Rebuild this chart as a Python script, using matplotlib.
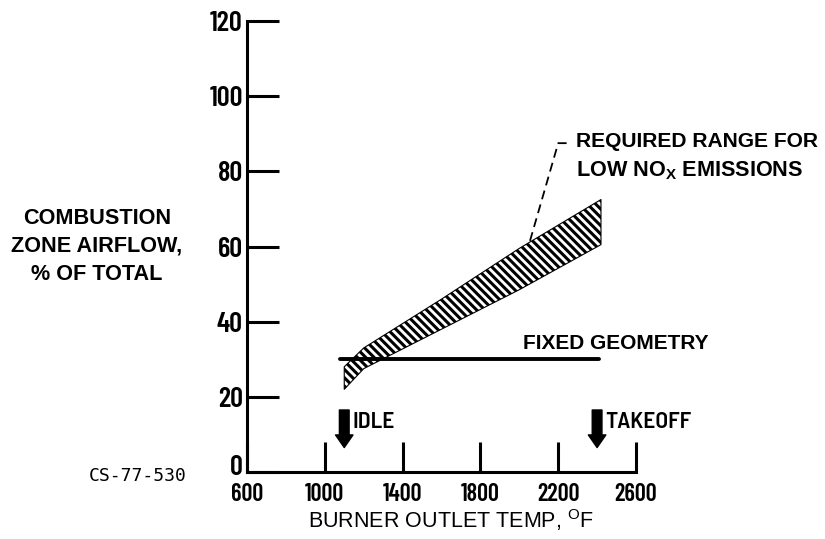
import matplotlib
matplotlib.use("Agg")
import matplotlib.pyplot as plt
from matplotlib.transforms import ScaledTranslation

plt.rcParams["font.family"] = ["Liberation Sans", "DejaVu Sans"]
plt.rcParams["mathtext.fontset"] = "custom"
plt.rcParams["mathtext.rm"] = "Liberation Sans"
plt.rcParams["mathtext.bf"] = "Liberation Sans:bold"
plt.rcParams["hatch.linewidth"] = 2.2

# data
x_ticks = [600, 1000, 1400, 1800, 2200, 2600]
y_ticks = [0, 20, 40, 60, 80, 100, 120]

band_x = [1100, 1200, 1600, 2000, 2420]
band_lower = [22, 27.5, 38, 48.5, 60.5]
band_upper = [28, 33, 46, 59.5, 72.5]

fixed_x = [1080, 2410]
fixed_y = [30, 30]

leader_x = [2055, 2200, 2262]
leader_y = [61.5, 87.5, 87.5]

idle_x, takeoff_x = 1100, 2400
arrow_top, arrow_tip = 16.5, 6.5

COND = ["Barlow Condensed", "DejaVu Sans"]
SEMI = ["Barlow Semi Condensed", "DejaVu Sans"]

fig = plt.figure(figsize=(8.25, 5.39), dpi=100)
ax = fig.add_axes([0.2994, 0.1243, 0.4715, 0.8367])

ax.fill_between(band_x, band_lower, band_upper, facecolor="white",
                edgecolor="black", hatch="\\\\\\\\", linewidth=0.8)
ax.plot(fixed_x, fixed_y, color="black", lw=2.8, solid_capstyle="round")
ax.plot(leader_x, leader_y, color="black", lw=1.3, dashes=(5, 3))

for xa in (idle_x, takeoff_x):
    ax.annotate("", xy=(xa, arrow_tip), xytext=(xa, arrow_top),
                arrowprops=dict(arrowstyle="simple,head_length=0.65,head_width=0.9,tail_width=0.5",
                                color="black", shrinkA=0, shrinkB=0, mutation_scale=14))

ax.text(idle_x + 40, 13.4, "IDLE", fontsize=17, fontweight="semibold", va="center", family=SEMI)
ax.text(takeoff_x + 40, 13.4, "TAKEOFF", fontsize=17, fontweight="semibold", va="center",
        family=SEMI)
ax.text(2020, 34.3, "FIXED GEOMETRY", fontsize=15, fontweight="bold", va="center")
ax.text(2292, 88, "REQUIRED RANGE FOR", fontsize=15.1, fontweight="bold", va="center")
ax.text(2292, 80.3, r"LOW NO$_{\mathbf{X}}$ EMISSIONS", fontsize=15.6, fontweight="bold",
        va="center")

ax.set_xlim(600, 2600)
ax.set_ylim(0, 120)
ax.set_xticks(x_ticks)
ax.set_yticks(y_ticks)
for lab in ax.get_xticklabels():
    lab.set_family(COND)
    lab.set_fontweight("semibold")
    lab.set_fontsize(17.5)
for lab in ax.get_yticklabels():
    lab.set_family(COND)
    lab.set_fontweight("semibold")
    lab.set_fontsize(20.5)
ax.tick_params(axis="y", direction="in", length=23, width=2.2, pad=3)
ax.tick_params(axis="x", direction="in", length=21.5, width=2.2, pad=8)

# lift the "0" a little so it clears the "600" below it
zero = ax.yaxis.get_major_ticks()[0].label1
zero.set_transform(zero.get_transform() + ScaledTranslation(0, 5 / 72, fig.dpi_scale_trans))

for side in ("top", "right"):
    ax.spines[side].set_visible(False)
for side in ("left", "bottom"):
    ax.spines[side].set_linewidth(2.2)
ax.set_facecolor("none")

fig.text(0.5466, 0.035, r"BURNER OUTLET TEMP, $^{\mathrm{O}}$F", fontsize=15.5,
         ha="center", va="center")
fig.text(0.1176, 0.543, "COMBUSTION\nZONE AIRFLOW,\n% OF TOTAL", fontsize=15.6,
         fontweight="bold", ha="center", va="center", linespacing=1.45)
fig.text(0.107, 0.117, "CS-77-530", fontsize=13, family=["DejaVu Sans Mono"],
         va="center")

fig.savefig("out.png", dpi=100)
